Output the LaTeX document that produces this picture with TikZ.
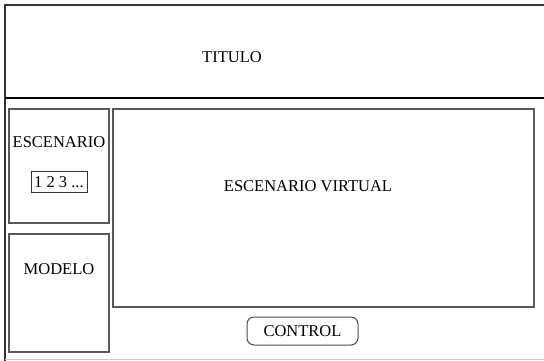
\documentclass[tikz,border=0pt]{standalone}
\usepackage{fontspec}
\setmainfont{Liberation Serif}
\begin{document}
\begin{tikzpicture}[x=1pt,y=-1pt,
  panel/.style={draw=black!65,line width=1.3pt},
  lbl/.style={font=\fontsize{16.5}{19}\selectfont,inner sep=0pt,text=black}]
\useasboundingbox (0,0) rectangle (544,361);
% outer frame
\draw[black!80,line width=1.1pt] (544,5) -- (5,5) -- (5,361);
\draw[black!20,line width=1pt] (5,359.5) -- (544,359.5);
\draw[black,line width=2.2pt] (5,98) -- (544,98);
\node[lbl] (titulo) at (232,57) {TITULO};
% panels
\draw[panel] (9,109) rectangle (109,223);
\node[lbl] (esc) at (59,142) {ESCENARIO};
\node[draw=black!80,line width=0.9pt,lbl,minimum width=56pt,minimum height=21pt] (nums) at (59,182) {1 2 3 ...};
\draw[panel] (9,234) rectangle (109,352);
\node[lbl] (modelo) at (59,269) {MODELO};
\draw[panel] (113,109) rectangle (534,307);
\node[lbl] (virt) at (308,186) {ESCENARIO VIRTUAL};
\node[draw=black!70,line width=1pt,rounded corners=7pt,lbl,minimum width=111pt,minimum height=28pt] (control) at (302.5,331) {CONTROL};
\end{tikzpicture}
\end{document}
